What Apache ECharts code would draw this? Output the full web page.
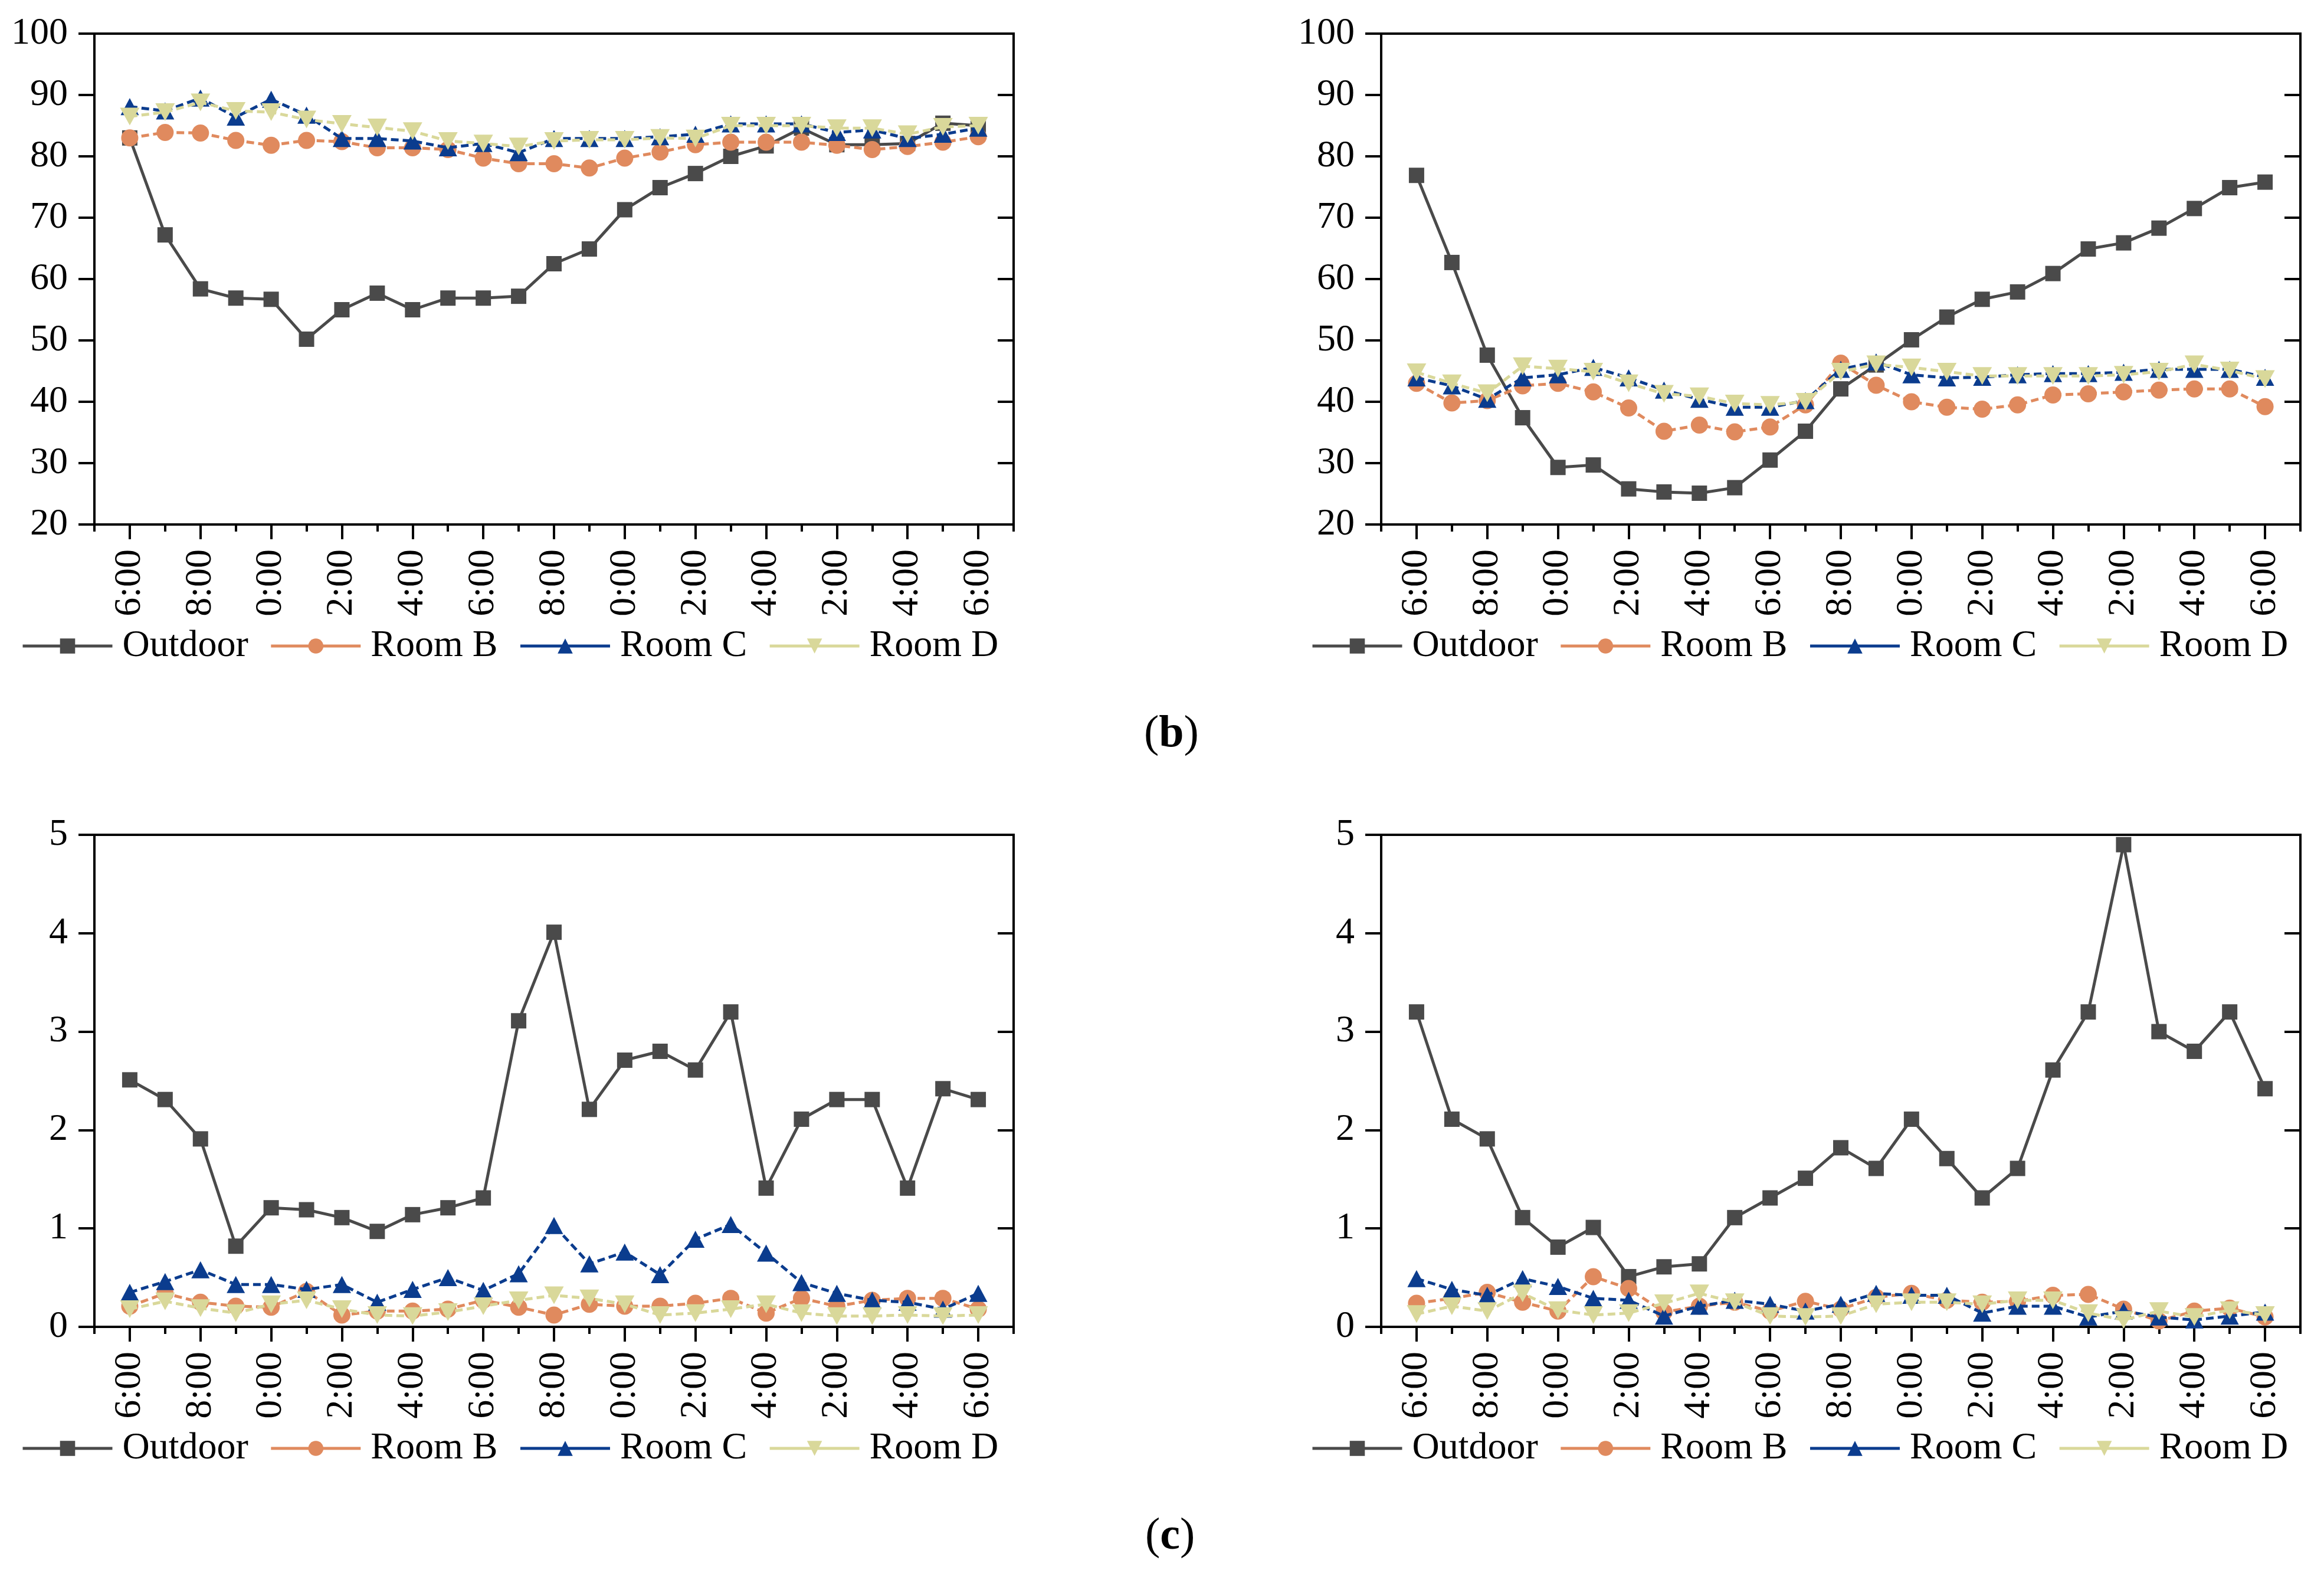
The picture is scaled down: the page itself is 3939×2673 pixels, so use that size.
<!DOCTYPE html>
<html>
<head>
<meta charset="utf-8">
<script src="https://cdn.jsdelivr.net/npm/echarts@6/dist/echarts.min.js"></script>
<style>
  html, body { margin: 0; padding: 0; background: #fff; }
  #chart { width: 3939px; height: 2673px; }
</style>
</head>
<body>
<div id="chart"></div>
<script>
// ---- Data ----
const tickLabels = ['6:00','8:00','0:00','2:00','4:00','6:00','8:00','0:00','2:00','4:00','2:00','4:00','6:00'];
const seriesNames = ['Outdoor', 'Room B', 'Room C', 'Room D'];

// top-left panel
const tlOutdoor = [83.0,67.2,58.4,56.9,56.7,50.2,55.0,57.7,55.0,56.9,56.9,57.2,62.5,64.9,71.3,74.9,77.2,80.0,81.7,84.6,81.9,81.9,82.1,85.4,85.0];
const tlRoomB   = [83.0,83.9,83.8,82.6,81.8,82.6,82.4,81.4,81.4,81.1,79.7,78.8,78.8,78.1,79.7,80.7,81.9,82.3,82.3,82.3,81.8,81.1,81.6,82.3,83.2];
const tlRoomC   = [88.1,87.4,89.5,86.4,89.3,86.7,82.9,82.9,82.5,81.4,82.1,80.6,82.9,82.9,82.9,83.2,83.6,85.3,85.3,85.3,83.9,84.3,82.9,83.6,84.6];
const tlRoomD   = [86.5,87.2,88.8,87.4,87.2,86.0,85.3,84.7,84.1,82.5,82.1,81.6,82.5,82.7,82.7,83.0,82.9,85.0,85.0,85.0,84.6,84.6,83.6,84.8,85.0];

// top-right panel
const trOutdoor = [76.9,62.7,47.6,37.4,29.3,29.7,25.8,25.3,25.1,26.0,30.5,35.2,42.1,46.0,50.1,53.8,56.7,57.9,60.9,64.9,65.9,68.3,71.5,74.9,75.8];
const trRoomB   = [43.0,39.8,40.2,42.6,43.0,41.6,39.0,35.2,36.2,35.1,35.9,39.5,46.3,42.7,40.0,39.1,38.8,39.5,41.1,41.3,41.6,41.9,42.1,42.1,39.2];
const trRoomC   = [43.9,42.6,40.4,43.9,44.4,45.6,43.9,41.9,40.4,39.1,39.1,40.2,45.3,46.5,44.4,43.9,44.0,44.4,44.6,44.6,44.8,45.3,45.3,45.3,44.0];
const trRoomD   = [44.8,43.0,41.4,45.8,45.4,44.9,43.0,41.3,40.9,39.7,39.5,40.0,44.9,46.1,45.6,44.9,44.2,44.2,44.2,44.2,44.4,44.9,46.1,45.1,43.7];

// bottom-left panel
const blOutdoor = [2.51,2.31,1.91,0.82,1.21,1.19,1.11,0.97,1.14,1.21,1.31,3.11,4.01,2.21,2.71,2.80,2.61,3.20,1.41,2.11,2.31,2.31,1.41,2.42,2.31];
const blRoomB   = [0.21,0.34,0.25,0.21,0.20,0.36,0.12,0.16,0.16,0.18,0.27,0.20,0.12,0.23,0.21,0.21,0.24,0.29,0.14,0.29,0.21,0.27,0.29,0.29,0.18];
const blRoomC   = [0.35,0.46,0.58,0.43,0.43,0.38,0.43,0.25,0.38,0.50,0.37,0.54,1.03,0.64,0.76,0.53,0.89,1.04,0.75,0.45,0.34,0.27,0.25,0.18,0.34];
const blRoomD   = [0.18,0.26,0.19,0.14,0.23,0.27,0.18,0.12,0.11,0.15,0.21,0.27,0.32,0.29,0.23,0.12,0.14,0.18,0.23,0.14,0.11,0.11,0.12,0.11,0.12];

// bottom-right panel
const brOutdoor = [3.20,2.11,1.91,1.11,0.81,1.01,0.51,0.61,0.64,1.11,1.31,1.51,1.82,1.61,2.11,1.71,1.31,1.61,2.61,3.20,4.90,3.00,2.80,3.20,2.42];
const brRoomB   = [0.24,0.29,0.35,0.25,0.16,0.51,0.39,0.15,0.21,0.25,0.16,0.26,0.18,0.30,0.34,0.27,0.25,0.26,0.32,0.33,0.18,0.06,0.16,0.19,0.10];
const brRoomC   = [0.49,0.38,0.32,0.49,0.41,0.29,0.27,0.11,0.21,0.27,0.23,0.16,0.23,0.34,0.32,0.32,0.14,0.21,0.21,0.10,0.16,0.10,0.07,0.11,0.15];
const brRoomD   = [0.13,0.21,0.16,0.34,0.17,0.12,0.14,0.24,0.34,0.25,0.11,0.10,0.11,0.23,0.25,0.25,0.23,0.27,0.27,0.14,0.07,0.16,0.10,0.17,0.12];

// y-axis ranges
const rhAxis = { min: 20, max: 100, interval: 10 };
const lowAxis = { min: 0, max: 5, interval: 1 };

// ---- Styling / layout ----
const FONT = '"Liberation Serif", "Times New Roman", "DejaVu Serif", serif';
const FS = 64;
const styles = [
  { color: '#4a4a4a', symbol: 'rect', size: 26, dash: 'solid' },
  { color: '#e08a5e', symbol: 'circle', size: 29, dash: [13, 7] },
  { color: '#0b3c8e', symbol: 'triangle', size: [31, 29], dash: [13, 7] },
  { color: '#d9d89a', symbol: 'path://M0,0 L10,0 L5,9 Z', size: [33, 30], dash: [13, 7] }
];

const panels = [
  { box: { left: 160, top: 57, width: 1558, height: 832 }, axis: rhAxis, data: [tlOutdoor, tlRoomB, tlRoomC, tlRoomD], legendLeft: 36, legendTop: 1060 },
  { box: { left: 2341, top: 57, width: 1558, height: 832 }, axis: rhAxis, data: [trOutdoor, trRoomB, trRoomC, trRoomD], legendLeft: 2222, legendTop: 1060 },
  { box: { left: 160, top: 1415, width: 1558, height: 834 }, axis: lowAxis, data: [blOutdoor, blRoomB, blRoomC, blRoomD], legendLeft: 36, legendTop: 2420 },
  { box: { left: 2341, top: 1415, width: 1558, height: 834 }, axis: lowAxis, data: [brOutdoor, brRoomB, brRoomC, brRoomD], legendLeft: 2222, legendTop: 2420 }
];

// 25 hourly points + one empty slot at each end
const nSlots = tlOutdoor.length + 2;
const slotNames = Array.from({ length: nSlots }, (_, k) => 's' + k);
const isLabelSlot = (idx) => idx >= 1 && idx <= nSlots - 2 && (idx - 1) % 2 === 0;

const grid = [], xAxis = [], yAxis = [], series = [], legend = [];

panels.forEach((p, k) => {
  grid.push(Object.assign({ show: true, borderColor: '#000', borderWidth: 4, backgroundColor: 'transparent', containLabel: false }, p.box));
  xAxis.push({
    type: 'category', gridIndex: k, position: 'bottom', data: slotNames, boundaryGap: false,
    axisLine: { show: true, onZero: false, lineStyle: { color: '#000', width: 4 } },
    axisTick: { show: true, interval: (idx) => isLabelSlot(idx), length: 25, lineStyle: { color: '#000', width: 4 } },
    axisLabel: {
      show: true, interval: (idx) => isLabelSlot(idx), rotate: 90, margin: 42,
      fontFamily: FONT, fontSize: FS, color: '#000',
      formatter: (val, idx) => isLabelSlot(idx) ? tickLabels[(idx - 1) / 2] : ''
    },
    splitLine: { show: false }
  });
  xAxis.push({
    type: 'category', gridIndex: k, position: 'bottom', data: slotNames, boundaryGap: false,
    axisLine: { show: false, onZero: false },
    axisTick: { show: true, interval: 0, length: 12, lineStyle: { color: '#000', width: 4 } },
    axisLabel: { show: false },
    splitLine: { show: false }
  });
  yAxis.push({
    type: 'value', gridIndex: k, position: 'left', min: p.axis.min, max: p.axis.max, interval: p.axis.interval,
    axisLine: { show: true, lineStyle: { color: '#000', width: 4 } },
    axisTick: { show: true, length: 27, lineStyle: { color: '#000', width: 4 } },
    axisLabel: { show: true, margin: 45, fontFamily: FONT, fontSize: FS, color: '#000' },
    splitLine: { show: false }
  });
  yAxis.push({
    type: 'value', gridIndex: k, position: 'right', min: p.axis.min, max: p.axis.max, interval: p.axis.interval,
    axisLine: { show: true, lineStyle: { color: '#000', width: 4 } },
    axisTick: { show: true, inside: true, length: 27, lineStyle: { color: '#000', width: 4 } },
    axisLabel: { show: false },
    splitLine: { show: false }
  });
  p.data.forEach((vals, s) => {
    const st = styles[s];
    series.push({
      type: 'line', name: seriesNames[s], xAxisIndex: 2 * k, yAxisIndex: 2 * k,
      data: vals.map((v, i) => [i + 1, v]),
      symbol: st.symbol, symbolSize: st.size, showAllSymbol: true,
      itemStyle: { color: st.color, opacity: 1 },
      lineStyle: { color: st.color, width: 5, type: st.dash },
      emphasis: { disabled: true },
      z: 2 + s
    });
  });
  legend.push({
    data: seriesNames, left: p.legendLeft, top: p.legendTop, orient: 'horizontal',
    padding: 0, itemWidth: 152, itemHeight: 32, itemGap: 36, selectedMode: false,
    lineStyle: { type: 'solid', width: 5 },
    textStyle: { fontFamily: FONT, fontSize: FS, color: '#000', lineHeight: 70, padding: [0, 0, 0, 12] }
  });
});

const option = {
  animation: false,
  backgroundColor: '#fff',
  grid, xAxis, yAxis, series, legend,
  graphic: [
    { type: 'text', left: 1988 - 49, top: 1252 - 45, style: { text: '({b|b})', fontFamily: FONT, fontSize: 76, fill: '#000',
      rich: { b: { fontFamily: FONT, fontSize: 76, fontWeight: 'bold', fill: '#000' } } } },
    { type: 'text', left: 1988 - 47, top: 2612 - 45, style: { text: '({b|c})', fontFamily: FONT, fontSize: 76, fill: '#000',
      rich: { b: { fontFamily: FONT, fontSize: 76, fontWeight: 'bold', fill: '#000' } } } }
  ]
};

const chart = echarts.init(document.getElementById('chart'), null, { renderer: 'canvas', width: 3939, height: 2673 });
chart.setOption(option);
</script>
</body>
</html>
